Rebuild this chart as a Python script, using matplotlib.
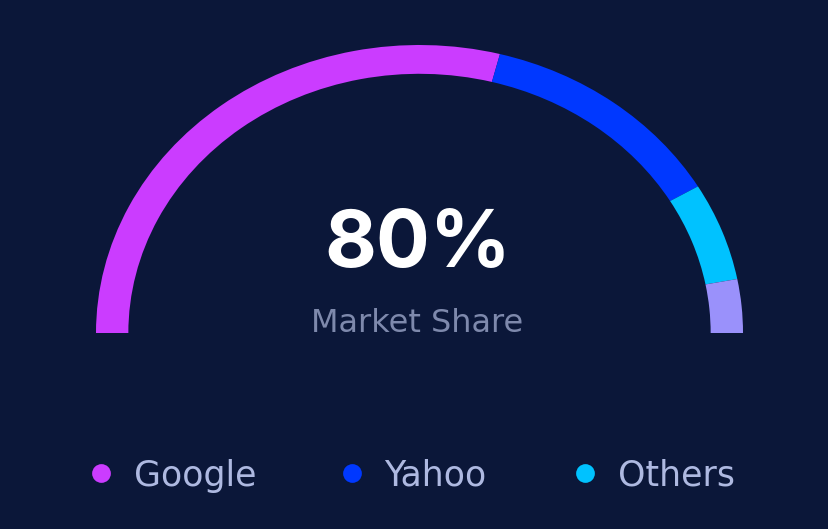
import matplotlib.pyplot as plt

# gauge segments (share of the half circle)
labels = ['Google', 'Yahoo', 'Others', 'Rest']
shares = [58, 25, 11, 6]
colors = ['#CB3CFF', '#0038FF', '#00C2FF', '#9A91FB']
value_text = '80%'
caption = 'Market Share'

bg = '#0B1739'
W, H = 829, 529

fig = plt.figure(figsize=(W / 100, H / 100), dpi=100, facecolor=bg)

# gauge axes: unit circle stretched to the ellipse of the reference
cx, cy, rx, ry = 419.5, 333, 323.5, 288
ax = fig.add_axes([(cx - rx) / W, 1 - (cy + ry) / H, 2 * rx / W, 2 * ry / H])
ax.set_facecolor('none')
vals = shares + [sum(shares)]   # hidden lower half
cols = colors + ['none']
ax.pie(vals, colors=cols, startangle=180, counterclock=False, radius=1,
       wedgeprops=dict(width=0.1, linewidth=0))
ax.set_aspect('auto')
ax.set_xlim(-1, 1)
ax.set_ylim(-1, 1)
ax.axis('off')

# overlay for texts and legend, pixel coordinates
ov = fig.add_axes([0, 0, 1, 1])
ov.set_facecolor('none')
ov.set_xlim(0, W)
ov.set_ylim(H, 0)
ov.axis('off')

ov.text(417.5, 267, value_text, ha='center', va='baseline', color='white',
        fontsize=57.5, fontweight='bold', family='Inter')
ov.text(417.5, 332, caption, ha='center', va='baseline', color='#7E89AC',
        fontsize=23, family='DejaVu Sans')

dot_x = [101.5, 352, 585]
text_x = [134, 384, 618]
for i in range(3):
    ov.plot(dot_x[i], 473, 'o', color=colors[i], markersize=13.5, markeredgewidth=0)
    ov.text(text_x[i], 486, labels[i], ha='left', va='baseline', color='#AEB9E1',
            fontsize=25, family='DejaVu Sans')

fig.savefig('out.png', dpi=100, facecolor=bg)
